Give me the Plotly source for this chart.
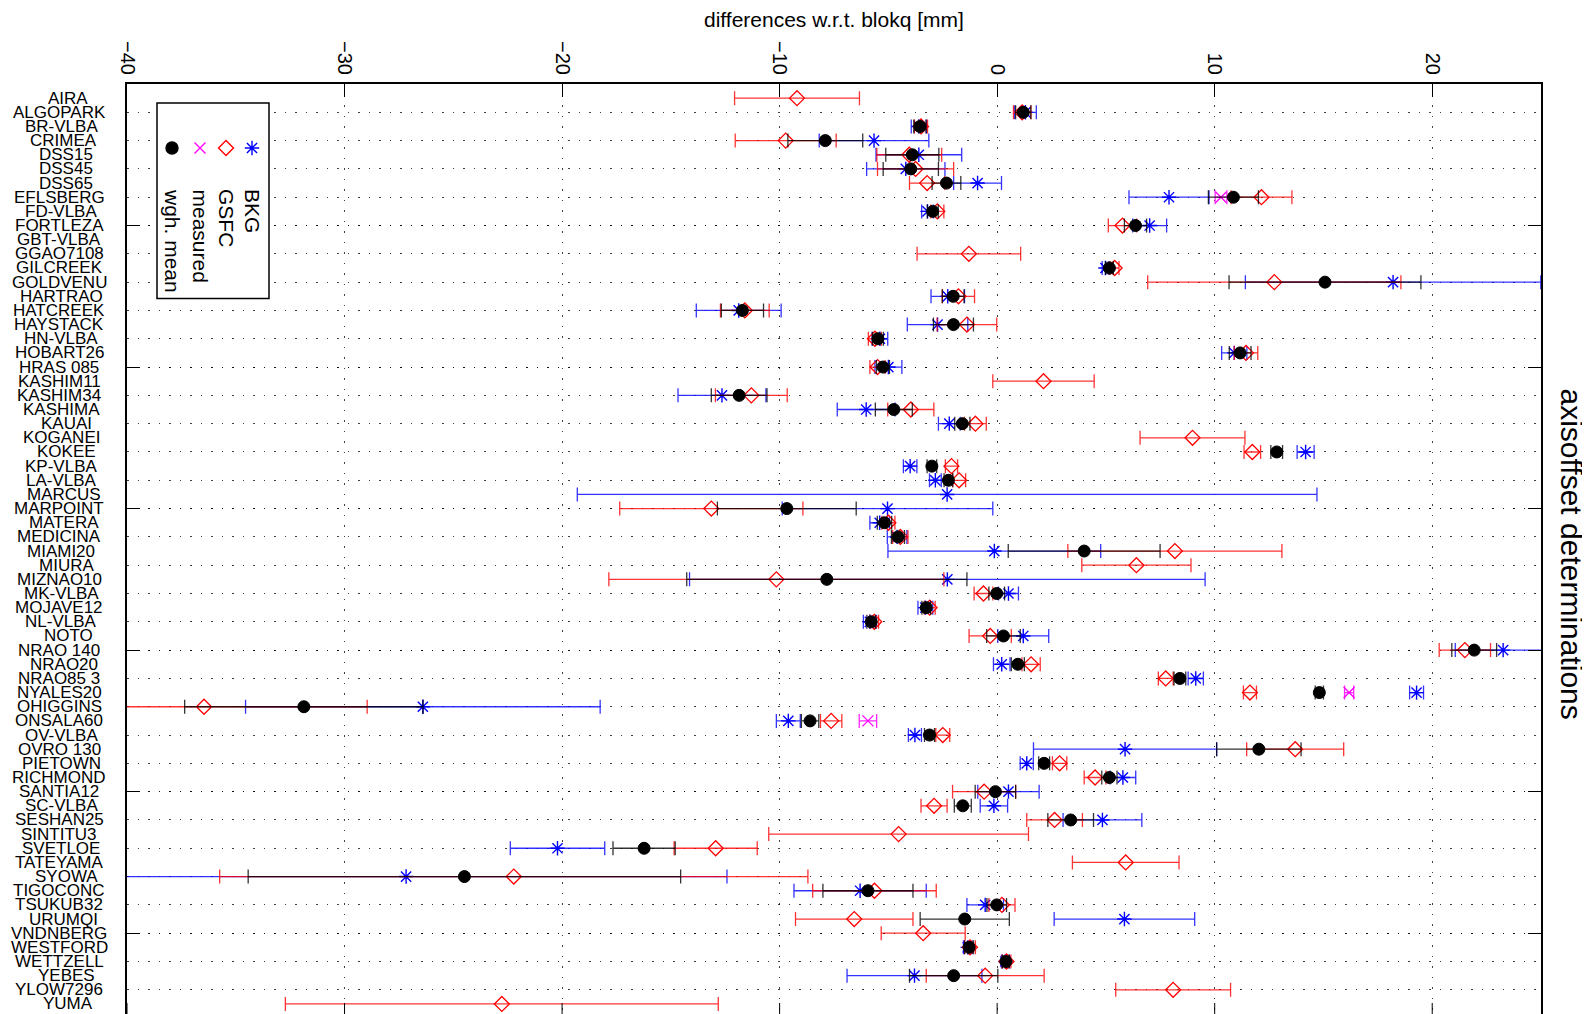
import plotly.graph_objects as go

stations = ["AIRA", "ALGOPARK", "BR-VLBA", "CRIMEA", "DSS15", "DSS45", "DSS65", "EFLSBERG",
            "FD-VLBA", "FORTLEZA", "GBT-VLBA", "GGAO7108", "GILCREEK", "GOLDVENU", "HARTRAO",
            "HATCREEK", "HAYSTACK", "HN-VLBA", "HOBART26", "HRAS 085", "KASHIM11", "KASHIM34",
            "KASHIMA", "KAUAI", "KOGANEI", "KOKEE", "KP-VLBA", "LA-VLBA", "MARCUS", "MARPOINT",
            "MATERA", "MEDICINA", "MIAMI20", "MIURA", "MIZNAO10", "MK-VLBA", "MOJAVE12",
            "NL-VLBA", "NOTO", "NRAO 140", "NRAO20", "NRAO85 3", "NYALES20", "OHIGGINS",
            "ONSALA60", "OV-VLBA", "OVRO 130", "PIETOWN", "RICHMOND", "SANTIA12", "SC-VLBA",
            "SESHAN25", "SINTITU3", "SVETLOE", "TATEYAMA", "SYOWA", "TIGOCONC", "TSUKUB32",
            "URUMQI", "VNDNBERG", "WESTFORD", "WETTZELL", "YEBES", "YLOW7296", "YUMA"]

N = None
bkg = [N, 1.3, -3.6, -5.66, -3.6, -4.2, -0.9, 7.9, -3.2, 7.01, N, N, 4.98, 18.2, -2.27,
       -11.88, -2.74, -5.39, 10.9, -5.0, N, -12.65, -6.02, -2.2, N, 14.18, -4.0, -2.84, -2.3,
       -5.04, -5.4, -4.6, -0.13, N, -2.29, 0.52, -3.3, -5.85, 1.2, 23.26, 0.21, 9.13, 19.28,
       -26.4, -9.6, -3.78, 5.88, 1.36, 5.78, 0.52, -0.15, 4.84, N, -20.21, N, -27.17, -6.3,
       -0.55, 5.85, N, -1.35, 0.38, -3.8, N, N]
bkg_err = [N, 0.5, 0.35, 2.52, 1.97, 1.8, 1.1, 1.84, 0.27, 0.78, N, N, 0.15, 6.79, 0.77,
           1.95, 1.39, 0.36, 0.58, 0.62, N, 2.02, 1.33, 0.5, N, 0.39, 0.31, 0.27, 17.0,
           4.84, 0.45, 0.45, 4.89, N, 11.85, 0.46, 0.34, 0.3, 1.17, 2.2, 0.38, 0.35, 0.32,
           8.15, 0.55, 0.3, 4.21, 0.3, 0.59, 1.41, 0.63, 1.81, N, 2.17, N, 14.75, 3.04,
           0.84, 3.23, N, 0.2, 0.18, 3.1, N, N]

gsfc = [-9.2, 1.15, -3.5, -9.72, -4.04, -3.75, -3.22, 12.15, -2.75, 5.76, N, -1.3, 5.4, 12.74,
        -1.78, -11.6, -1.39, -5.62, 11.44, -5.5, 2.13, -11.3, -3.97, -1.0, 8.98, 11.73, -2.1,
        -1.75, N, -13.14, -5.0, -4.45, 8.17, 6.4, -10.15, -0.63, -3.1, -5.65, -0.32, 21.5,
        1.56, 7.75, 11.62, -36.46, -7.63, -2.5, 13.7, 2.87, 4.5, -0.6, -2.9, 2.64, -4.53,
        -12.94, 5.91, -22.22, -5.64, 0.22, -6.57, -3.4, -1.25, 0.43, -0.55, 8.09, -22.77]
gsfc_err = [2.87, 0.4, 0.3, 2.32, 1.49, 1.75, 0.81, 1.4, 0.3, 0.65, N, 2.38, 0.2, 5.82,
            0.74, 1.12, 1.37, 0.3, 0.54, 0.35, 2.33, 1.65, 1.06, 0.5, 2.41, 0.38, 0.28,
            0.3, N, 4.21, 0.3, 0.35, 4.92, 2.51, 7.7, 0.43, 0.25, 0.2, 0.97, 1.18,
            0.42, 0.34, 0.3, 7.5, 0.49, 0.32, 2.23, 0.33, 0.5, 1.45, 0.6, 1.28, 5.97,
            1.91, 2.45, 13.52, 2.84, 0.6, 2.7, 1.93, 0.25, 0.2, 2.71, 2.64, 9.95]

measured = [N] * 65
measured_err = [N] * 65
measured[7], measured_err[7] = 10.29, 0.27      # EFLSBERG
measured[42], measured_err[42] = 16.18, 0.21    # NYALES20
measured[44], measured_err[44] = -5.94, 0.4     # ONSALA60

wmean = [N, 1.2, -3.55, -7.9, -3.9, -3.97, -2.33, 10.86, -2.96, 6.36, N, N, 5.16, 15.07,
         -2.02, -11.71, -2.01, -5.48, 11.17, -5.25, N, -11.86, -4.75, -1.6, N, 12.85, -3.0,
         -2.24, N, -9.67, -5.18, -4.56, 4.0, N, -7.83, -0.02, -3.26, -5.79, 0.29, 21.93,
         0.95, 8.4, 14.81, -31.87, -8.6, -3.11, 12.03, 2.16, 5.16, -0.08, -1.58, 3.38, N,
         -16.23, N, -24.49, -5.94, -0.02, -1.49, N, -1.29, 0.4, -2.0, N, N]
wmean_err = [N, 0.35, 0.28, 1.72, 1.22, 1.27, 0.66, 1.15, 0.25, 0.51, N, N, 0.18, 4.41,
             0.5, 0.97, 0.92, 0.25, 0.5, 0.3, N, 1.28, 0.85, 0.35, N, 0.27, 0.22,
             0.2, N, 3.19, 0.33, 0.3, 3.49, N, 6.44, 0.36, 0.2, 0.2, 0.77, 1.03,
             0.3, 0.27, 0.19, 5.48, 0.4, 0.23, 1.94, 0.25, 0.35, 0.93, 0.39, 1.05, N,
             1.43, N, 9.94, 2.07, 0.45, 2.05, N, 0.2, 0.15, 2.03, N, N]

x_ticks = [-40, -30, -20, -10, 0, 10, 20]
y_ticks = [10, 20, 30, 40, 50, 60]
legend_names = ["wgh. mean", "measured", "GSFC", "BKG"]

rows = list(range(1, len(stations) + 1))
FONT = "Liberation Sans, Arial, Helvetica, sans-serif"

# page geometry: the html body has an 8px margin, so the figure is offset by 8px
OFF = 8
FIG_W, FIG_H = 1590 - OFF, 1014 - OFF
# plot-area edges in window pixels
PX_L, PX_R, PX_T, PX_B = 127, 1541, 84, 1014
X_RANGE = [-40, 25]
Y_RANGE = [65.71, 0]

def pxx(px):   # window px -> paper x
    return (px - PX_L) / (PX_R - PX_L)

def pxy(py):   # window py -> paper y
    return (PX_B - py) / (PX_B - PX_T)

fig = go.Figure()

def add_series(xv, ev, color, ecolor, symbol, size, lw):
    marker = dict(symbol=symbol, size=size, color=color,
                  line=dict(color=color, width=lw))
    fig.add_trace(go.Scatter(
        x=xv, y=rows, mode="markers", marker=marker, showlegend=False,
        error_x=dict(type="data", array=ev, visible=True, color=ecolor,
                     thickness=1.3, width=7),
        hoverinfo="x+y"))

add_series(bkg, bkg_err, "#0000ff", "rgba(0,0,255,0.8)", "asterisk-open", 12, 1.4)
add_series(gsfc, gsfc_err, "#ff0000", "rgba(255,0,0,0.8)", "diamond-open", 11.5, 1.3)
add_series(measured, measured_err, "#ff00ff", "rgba(255,0,255,0.85)", "x-thin-open", 11, 1.3)
add_series(wmean, wmean_err, "#000000", "rgba(0,0,0,0.8)", "circle", 12, 1)

# ---- custom legend keys (on an invisible overlay axis in pixel units) ----
leg_x = [172, 200, 226, 252]
leg_sym = [("circle", "#000000", 12), ("x-thin-open", "#ff00ff", 11),
           ("diamond-open", "#ff0000", 11.5), ("asterisk-open", "#0000ff", 12)]
for lx, (sym, col, sz) in zip(leg_x, leg_sym):
    fig.add_trace(go.Scatter(x=[lx], y=[148], xaxis="x2", yaxis="y2", mode="markers",
                             marker=dict(symbol=sym, size=sz, color=col,
                                         line=dict(color=col, width=1.4)),
                             showlegend=False, hoverinfo="skip"))

annotations = []
for lx, name in zip(leg_x, legend_names):
    annotations.append(dict(x=pxx(lx), y=pxy(187), xref="paper", yref="paper", text=name,
                            textangle=90, xanchor="center", yanchor="top", showarrow=False,
                            font=dict(family=FONT, size=21, color="black")))

# station labels (centred, padded like fixed-width strings)
for r, name in zip(rows, stations):
    annotations.append(dict(x=pxx(59 + (8 - len(name)) * 2.36), y=r, xref="paper", yref="y",
                            text=name, showarrow=False, xanchor="center", yanchor="middle",
                            font=dict(family=FONT, size=17, color="black")))

annotations.append(dict(x=pxx(834), y=pxy(19), xref="paper", yref="paper",
                        text="differences w.r.t. blokq [mm]", showarrow=False,
                        xanchor="center", yanchor="middle",
                        font=dict(family=FONT, size=21, color="black")))
annotations.append(dict(x=pxx(1571), y=pxy(386), xref="paper", yref="paper",
                        text="axisoffset determinations", showarrow=False, textangle=90,
                        xanchor="center", yanchor="top",
                        font=dict(family=FONT, size=30, color="black")))

def px2x(px):
    return X_RANGE[0] + (px - PX_L) * (X_RANGE[1] - X_RANGE[0]) / (PX_R - PX_L)

def px2y(py):
    return Y_RANGE[1] + (py - PX_T) * (Y_RANGE[0] - Y_RANGE[1]) / (PX_B - PX_T)

shapes = [dict(type="rect", xref="x", yref="y", x0=px2x(157), x1=px2x(269),
               y0=px2y(103), y1=px2y(298.5),
               line=dict(color="black", width=1.5), fillcolor="white", layer="between")]
for v in x_ticks:
    shapes.append(dict(type="line", xref="x", yref="paper", x0=v, x1=v, y0=0, y1=11 / 930,
                       line=dict(color="black", width=1)))

GRID = "rgba(0,0,0,0.75)"
DASH = "1.5px,9px"

fig.update_layout(
    width=FIG_W, height=FIG_H,
    margin=dict(l=PX_L - OFF, r=1590 - PX_R, t=PX_T - OFF, b=0, autoexpand=False),
    paper_bgcolor="white", plot_bgcolor="white",
    font=dict(family=FONT, color="black"),
    showlegend=False,
    xaxis=dict(range=X_RANGE, side="top", tickvals=x_ticks, tickangle=90,
               tickfont=dict(size=20, family=FONT, color="black"),
               ticks="inside", ticklen=13, tickcolor="black", tickwidth=1,
               showline=True, linecolor="black", linewidth=2, mirror=False,
               showgrid=True, gridcolor=GRID, gridwidth=1, griddash=DASH,
               zeroline=False, fixedrange=True, automargin=False),
    yaxis=dict(range=Y_RANGE, tickvals=y_ticks, showticklabels=False,
               ticks="inside", ticklen=13, tickcolor="black", tickwidth=1,
               showline=True, linecolor="black", linewidth=1.5, mirror="ticks",
               showgrid=True, gridcolor=GRID, gridwidth=1, griddash=DASH,
               minor=dict(dtick=2, tick0=0, showgrid=True, gridcolor=GRID,
                          gridwidth=1, griddash=DASH, ticks=""),
               zeroline=False, fixedrange=True, automargin=False),
    xaxis2=dict(overlaying="x", range=[PX_L, PX_R], visible=False, anchor="y2",
                fixedrange=True),
    yaxis2=dict(overlaying="y", range=[PX_B, PX_T], visible=False, anchor="x2",
                fixedrange=True),
    annotations=annotations,
    shapes=shapes,
)

fig.write_html("out.html")
